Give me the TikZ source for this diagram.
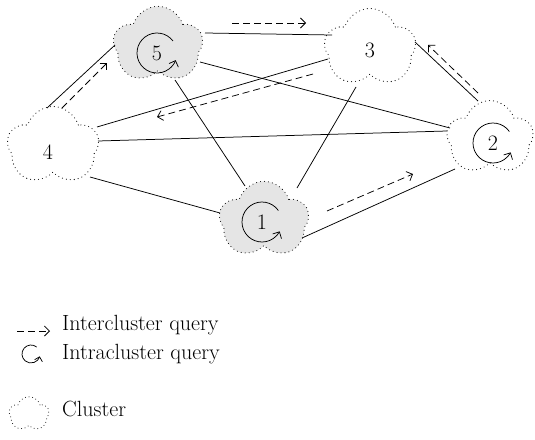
\documentclass[tikz,border=0pt]{standalone}
\usepackage{fontspec}
\usetikzlibrary{shapes.symbols,arrows.meta}

\tikzset{
  cluster/.style={shape=cloud, cloud puffs=5, cloud puff arc=145, aspect=1.1,
    draw, line width=1.1pt, dash pattern=on 0pt off 4pt, line cap=round,
    inner sep=0pt, minimum width=#1, minimum height=0.86*#1},
  cluster/.default=88pt,
  busy/.style={fill=gray!20},
  link/.style={line width=0.75pt},
  query/.style={line width=0.75pt, dash pattern=on 7pt off 4pt,
    -{Straight Barb[length=5pt,width=10pt,line width=0.75pt]}},
  selfq/.style={line width=0.75pt,
    -{Straight Barb[length=5pt,width=10pt,line width=0.75pt]}},
  num/.style={font=\fontsize{22}{26}\selectfont, inner sep=0pt},
  legend/.style={font=\fontsize{22}{26}\selectfont, anchor=west, inner sep=0pt}
}

\begin{document}
\begin{tikzpicture}[x=1pt,y=1pt]
\useasboundingbox (0,0) rectangle (535,-439);

% clusters
\node[cluster=90pt, busy, shape border rotate=10] (c5) at (158,-45) {};
\node[cluster=92pt, shape border rotate=-15] (c3) at (370,-48) {};
\node[cluster=92pt, shape border rotate=25] (c4) at (53,-146) {};
\node[cluster=87pt, shape border rotate=-5] (c2) at (490,-138) {};
\node[cluster=90pt, busy, shape border rotate=15] (c1) at (264,-220) {};

% cluster numbers
\node[num] (n5) at (157,-53) {5};
\node[num] (n3) at (370,-50) {3};
\node[num] (n4) at (48,-152) {4};
\node[num] (n2) at (493,-143) {2};
\node[num] (n1) at (262,-222) {1};

% links between clusters
\draw[link] ([shift={(47,12)}]c5.center) -- ([shift={(-38,13)}]c3.center);
\draw[link] ([shift={(-6,38)}]c4.center) -- ([shift={(-43,0)}]c5.center);
\draw[link] ([shift={(44,19)}]c4.center) -- ([shift={(-42,-11)}]c3.center);
\draw[link] ([shift={(45,5)}]c4.center) -- ([shift={(-43,7)}]c2.center);
\draw[link] ([shift={(37,-31)}]c4.center) -- ([shift={(-44,7)}]c1.center);
\draw[link] ([shift={(42,-17)}]c5.center) -- ([shift={(-40,10)}]c2.center);
\draw[link] ([shift={(17,-35)}]c5.center) -- ([shift={(-19,34)}]c1.center);
\draw[link] ([shift={(-14,-39)}]c3.center) -- ([shift={(33,32)}]c1.center);
\draw[link] ([shift={(45,6)}]c3.center) -- ([shift={(-12,37)}]c2.center);
\draw[link] ([shift={(38,-18)}]c1.center) -- ([shift={(-35,-31)}]c2.center);

% intercluster queries
\draw[query] ([shift={(74,22)}]c5.center) -- ([shift={(-64,25)}]c3.center);
\draw[query] ([shift={(9,38)}]c4.center) -- ([shift={(-51,-18)}]c5.center);
\draw[query] ([shift={(-57,-26)}]c3.center) -- ([shift={(104,29)}]c4.center);
\draw[query] ([shift={(-12,45)}]c2.center) -- ([shift={(58,3)}]c3.center);
\draw[query] ([shift={(63,9)}]c1.center) -- ([shift={(-77,-36)}]c2.center);

% intracluster queries
\draw[selfq] ([shift={(37:20)}]n5.center) arc[start angle=37, end angle=339, radius=20];
\draw[selfq] ([shift={(35:20)}]n2.center) arc[start angle=35, end angle=332, radius=20];
\draw[selfq] ([shift={(35:20)}]n1.center) arc[start angle=35, end angle=332, radius=20];

% legend
\node[legend] (l1) at (62,-325) {Intercluster query};
\node[legend] (l2) at (62,-354) {Intracluster query};
\node[legend] (l3) at (62,-409) {Cluster};
\draw[query] ([shift={(-45,-6)}]l1.west) -- ([shift={(-12,-6)}]l1.west);
\draw[line width=0.75pt, -{Straight Barb[length=4pt,width=8pt,line width=0.75pt]}]
  ([shift={(-31,0)}]l2.west) ++(50:9) arc[start angle=50, end angle=345, radius=9];
\node[cluster=40pt, line width=1pt, dash pattern=on 0pt off 3.6pt] (lc) at (29,-414) {};
\end{tikzpicture}
\end{document}
